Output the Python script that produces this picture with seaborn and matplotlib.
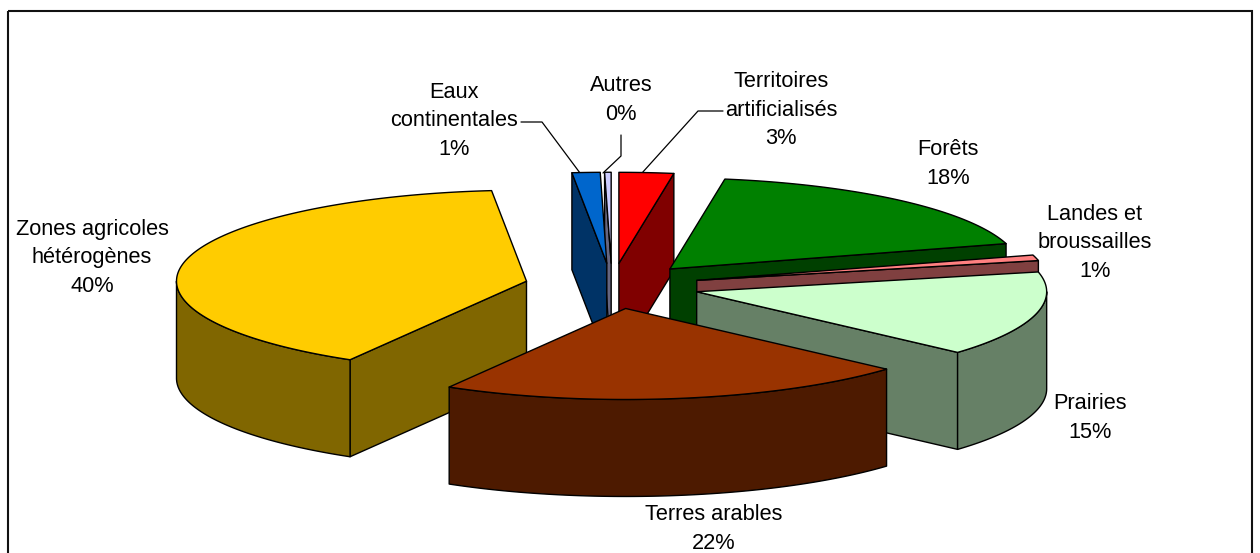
import numpy as np
import seaborn as sns
import matplotlib.pyplot as plt
from matplotlib.patches import Polygon, Rectangle

# Donnees
categories = ['Territoires\nartificialisés', 'Forêts', 'Landes et\nbroussailles', 'Prairies',
              'Terres arables', 'Zones agricoles\nhétérogènes', 'Eaux\ncontinentales', 'Autres']
valeurs = [2.51, 18.0, 1.0, 15.1, 21.8, 40.0, 1.29, 0.3]
couleurs = ['#FF0000', '#008000', '#FF8080', '#CCFFCC', '#993300', '#FFCC00', '#0066CC', '#CCCCFF']

# Reglages du camembert 3D
cx, cy = 612, 286
rx, ry = 350, 91
depth = 97
explode = 0.25

# Position du centre des etiquettes
pos_labels = [(781, 110), (948, 164), (1095, 243), (1090, 418),
              (714, 529), (92, 258), (454, 121), (621, 100)]

# Traits de rappel
leaders = [[(723, 111), (698, 111), (642, 173)],
           [(521, 122), (542, 122), (580, 173)],
           [(621, 135), (621, 156), (603, 173)]]

sns.set_theme(style="white")
plt.rcParams['font.family'] = ['Liberation Sans', 'DejaVu Sans']
palette = sns.color_palette(couleurs)

fig = plt.figure(figsize=(12.6, 5.53), dpi=100)
ax = fig.add_axes([0, 0, 1, 1])
ax.set_xlim(0, 1260)
ax.set_ylim(553, 0)
ax.axis('off')


def pt(ax0, ay0, theta):
    return ax0 + rx * np.sin(theta), ay0 - ry * np.cos(theta)


def draw_wedge(a0, a1, color, z):
    mid = (a0 + a1) / 2
    ax0 = cx + explode * rx * np.sin(mid)
    ay0 = cy - explode * ry * np.cos(mid)
    dark = tuple(c * 0.5 for c in color)
    style = dict(edgecolor='black', linewidth=1.0, zorder=z, joinstyle='round')

    # faces radiales visibles
    ix, iy = ax0 + 0.5 * rx * np.sin(mid), ay0 - 0.5 * ry * np.cos(mid)
    for a in (a0, a1):
        rim_x, rim_y = pt(ax0, ay0, a)
        if abs(rim_x - ax0) < 1e-6:
            continue
        line_y = ay0 + (rim_y - ay0) * (ix - ax0) / (rim_x - ax0)
        if iy < line_y:
            ax.add_patch(Polygon([(ax0, ay0), (rim_x, rim_y), (rim_x, rim_y + depth), (ax0, ay0 + depth)],
                                 facecolor=dark, **style))

    # bord exterieur (seulement la moitie avant)
    lo, hi = max(a0, np.pi / 2), min(a1, 3 * np.pi / 2)
    if hi > lo:
        t = np.linspace(lo, hi, 120)
        xs, ys = pt(ax0, ay0, t)
        wall = np.r_[np.c_[xs, ys], np.c_[xs, ys + depth][::-1]]
        ax.add_patch(Polygon(wall, facecolor=dark, **style))

    # dessus
    t = np.linspace(a0, a1, 160)
    xs, ys = pt(ax0, ay0, t)
    top = np.r_[[(ax0, ay0)], np.c_[xs, ys]]
    ax.add_patch(Polygon(top, facecolor=color, **style))


# Angles et ordre de dessin (du fond vers l'avant)
bornes = np.cumsum([0] + valeurs) / sum(valeurs) * 2 * np.pi
milieux = (bornes[:-1] + bornes[1:]) / 2
ordre = np.argsort(-np.cos(milieux))
for z, i in enumerate(ordre):
    draw_wedge(bornes[i], bornes[i + 1], palette[i], 2 + z)

# Etiquettes
for nom, val, (x, y) in zip(categories, valeurs, pos_labels):
    ax.text(x, y, f"{nom}\n{val:.0f}%", ha='center', va='center', multialignment='center',
            fontsize=15.7, color='black', linespacing=1.47, zorder=30)

for seg in leaders:
    xs, ys = zip(*seg)
    ax.plot(xs, ys, color='black', lw=0.9, zorder=1)

# Cadre (coupe en bas)
ax.add_patch(Rectangle((8, 11), 1244, 560, fill=False, edgecolor='#111111', linewidth=1.5, zorder=0))

plt.savefig('out.png', dpi=100)
